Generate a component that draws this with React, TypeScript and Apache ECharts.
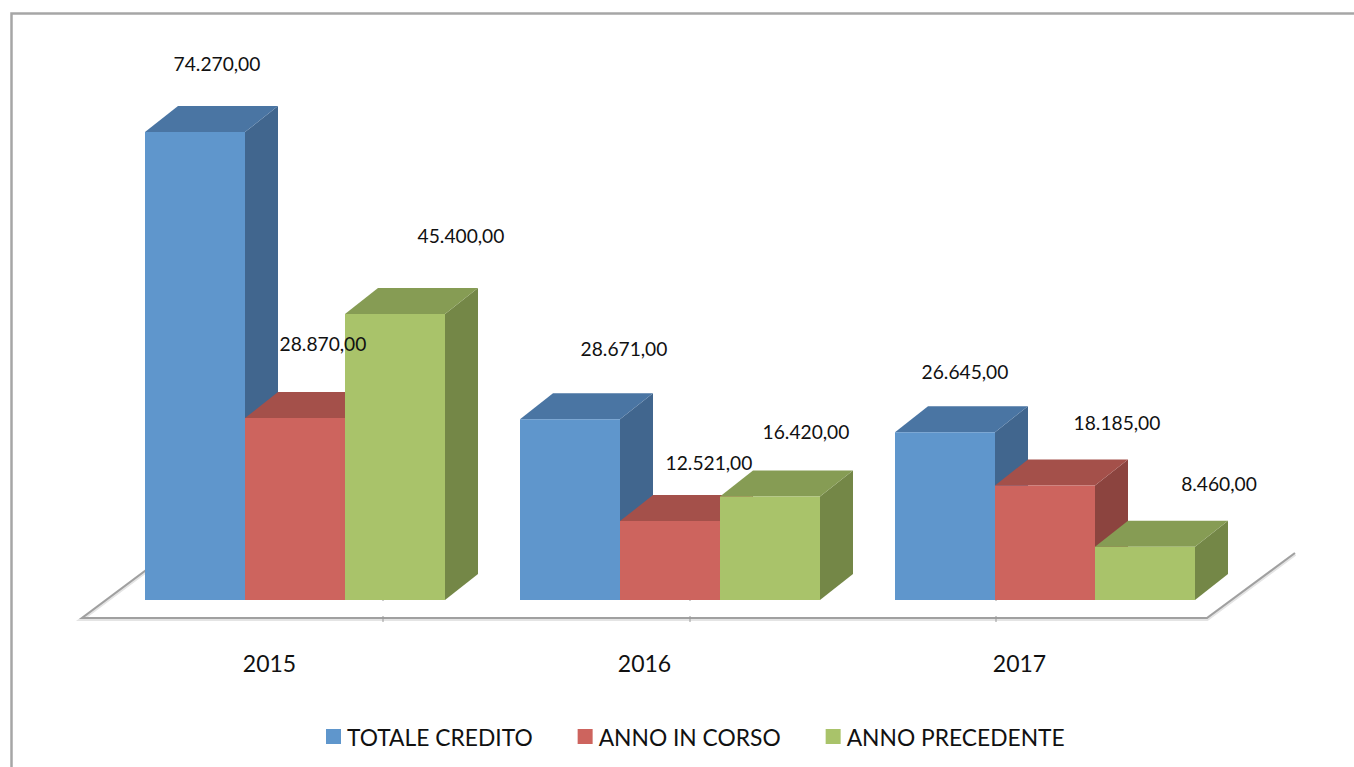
import React, { useEffect, useRef } from "react";
import * as echarts from "echarts";

const categories = ["2015", "2016", "2017"];
const seriesNames = ["TOTALE CREDITO", "ANNO IN CORSO", "ANNO PRECEDENTE"];
const totaleCredito = [74270, 28671, 26645];
const annoInCorso = [28870, 12521, 18185];
const annoPrecedente = [45400, 16420, 8460];
const seriesValues = [totaleCredito, annoInCorso, annoPrecedente];

const frontColors = ["#5f96cc", "#cd645e", "#a9c36a"];
const topColors = ["#4a75a3", "#a4504a", "#869c54"];
const sideColors = ["#41668e", "#8c443f", "#748747"];

// label displacement from each bar's top centre, by series then category
const labelDx = [[22, 54, 20], [28, 39, 72], [66, 36, 74]];
const labelDy = [[-69, -71, -61], [-75, -59, -63], [-78, -65, -63]];
// small tick marks on the floor
const floorTicks = [383, 690, 996];

const FONT = "Lato";
const fmt = (v: number) => {
  const s = String(Math.round(v)).replace(/\B(?=(\d{3})+$)/g, ".");
  return s + ",00";
};

export default function App() {
  const ref = useRef<HTMLDivElement>(null);
  useEffect(() => {
    const chart = echarts.init(ref.current!, undefined, { renderer: "svg" });
    const depthX = 33;
    const depthY = 26;
    const makeRender = (si: number) => (params: any, api: any) => {
      const cat = api.value(0);
      const val = api.value(1);
      const [cx, top] = api.coord([cat, val]);
      const [, base] = api.coord([cat, 0]);
      const bw = api.size([1, 0])[0] / 3.75;
      const l = cx + (si - 1.5) * bw;
      const r = l + bw;
      const poly = (points: number[][], fill: string) => ({
        type: "polygon",
        shape: { points },
        style: { fill, stroke: null },
      });
      return {
        type: "group",
        children: [
          poly([[r, top], [r + depthX, top - depthY], [r + depthX, base - depthY], [r, base]], sideColors[si]),
          poly([[l, top], [l + depthX, top - depthY], [r + depthX, top - depthY], [r, top]], topColors[si]),
          { type: "rect", shape: { x: l, y: top, width: bw, height: base - top }, style: { fill: frontColors[si] } },
          {
            type: "text",
            z2: 100,
            style: {
              x: cx + (si - 1) * bw + labelDx[si][cat],
              y: top + labelDy[si][cat],
              text: fmt(val),
              fill: "#111",
              font: `19.2px ${FONT}`,
              align: "center",
              verticalAlign: "middle",
            },
          },
        ],
      };
    };
    const gray = "#a6a6a6";
    const floorPts = [[169, 553], [82, 618], [1207, 618], [1295, 553]];
    chart.setOption({
      animation: false,
      backgroundColor: "#fff",
      grid: { left: 107.5, width: 1125, top: 96, height: 504 },
      xAxis: {
        type: "category",
        data: categories,
        axisLine: { show: false },
        axisTick: { show: false },
        axisLabel: { margin: 51, padding: [0, 51, 0, 0], fontFamily: FONT, fontSize: 23, color: "#111" },
      },
      yAxis: { type: "value", min: 0, max: 80000, interval: 20000, show: false, splitLine: { show: false } },
      legend: {
        data: seriesNames,
        left: 326,
        top: 725,
        padding: 0,
        itemWidth: 15,
        itemHeight: 15,
        itemGap: 45,
        icon: "rect",
        textStyle: { fontFamily: FONT, fontSize: 22.8, color: "#111", padding: [2, 0, 0, 1] },
      },
      graphic: [
        { type: "polyline", shape: { points: [[11.5, 767], [11.5, 13.5], [1354, 13.5]] }, style: { stroke: gray, lineWidth: 2.5, fill: null } },
        { type: "polyline", shape: { points: floorPts.map(([x, y]) => [x, y + 1]) }, style: { stroke: "#e4e4e4", lineWidth: 4, fill: null } },
        { type: "polyline", shape: { points: floorPts }, style: { stroke: "#a0a0a0", lineWidth: 2, fill: null } },
        ...floorTicks.flatMap((x) => [
          { type: "line", shape: { x1: x, y1: 597, x2: x, y2: 601 }, style: { stroke: "#9a9a9a", lineWidth: 1 } },
          { type: "line", shape: { x1: x, y1: 616, x2: x, y2: 622 }, style: { stroke: "#9a9a9a", lineWidth: 1 } },
        ]),
      ],
      series: seriesValues.map((vals, si) => ({
        type: "custom",
        name: seriesNames[si],
        itemStyle: { color: frontColors[si] },
        encode: { x: 0, y: 1 },
        data: vals.map((v, i) => [i, v]),
        renderItem: makeRender(si),
      })),
    });
    return () => chart.dispose();
  }, []);
  return <div ref={ref} style={{ position: "fixed", left: 0, top: 0, width: 1354, height: 767 }} />;
}
